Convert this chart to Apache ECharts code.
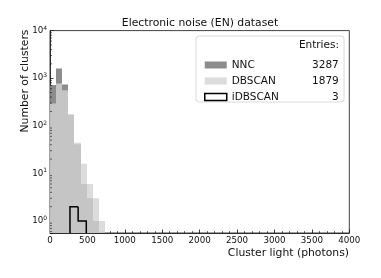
<!DOCTYPE html>
<html><head><meta charset="utf-8">
<script src="https://cdn.jsdelivr.net/npm/echarts@6/dist/echarts.min.js"></script>
<style>html,body{margin:0;padding:0;background:#fff;}#c{width:381px;height:278px;}</style>
</head><body><div id="c"></div>
<script>
// ---- data ----
const binEdges = [0, 81.6, 163.3, 244.9, 326.5, 408.2, 489.8, 571.4, 653.1, 734.7];
const nncCounts = [720, 1600, 740, 169, 41, 6, 3, 1];
const dbscanCounts = [295, 775, 560, 177, 44, 16, 6, 3, 1];
const idbscanEdges = [267, 376, 485];
const idbscanCounts = [2, 1];
const seriesNames = ['NNC', 'DBSCAN', 'iDBSCAN'];
const entries = [3287, 1879, 3];
const xTicks = [0, 4000, 500];
const yRange = [0.56, 10000];
const yMinorTicks = [0.6, 0.7, 0.8, 0.9,
  2, 3, 4, 5, 6, 7, 8, 9,
  20, 30, 40, 50, 60, 70, 80, 90,
  200, 300, 400, 500, 600, 700, 800, 900,
  2000, 3000, 4000, 5000, 6000, 7000, 8000, 9000];

const FONT = 'DejaVu Sans';
const nncColor = 'rgba(128,128,128,0.9)';
const dbColor = 'rgba(211,211,211,0.8)';

function binsData(edges, counts) {
  return counts.map((c, i) => [edges[i], edges[i + 1], c]);
}

function filledHist(color) {
  return function (params, api) {
    const x0 = api.value(0), x1 = api.value(1), c = api.value(2);
    const p0 = api.coord([x0, c]);
    const p1 = api.coord([x1, c]);
    const bottom = params.coordSys.y + params.coordSys.height;
    const left = Math.round(p0[0]), right = Math.round(p1[0]);
    return {
      type: 'rect',
      shape: { x: left, y: p0[1], width: right - left, height: bottom - p0[1] },
      style: { fill: color }
    };
  };
}

const idbData = binsData(idbscanEdges, idbscanCounts);

const chart = echarts.init(document.getElementById('c'), null, { renderer: 'canvas' });
chart.setOption({
  animation: false,
  textStyle: { fontFamily: FONT },
  grid: { left: 50, right: 31.7, top: 30.6, bottom: 45, show: true, borderColor: '#111', borderWidth: 0.8, containLabel: false },
  xAxis: {
    type: 'value', min: xTicks[0], max: xTicks[1], interval: xTicks[2],
    axisLine: { show: true, lineStyle: { color: '#111', width: 0.8 } },
    axisTick: { show: true, inside: true, length: 3.5, lineStyle: { color: '#111', width: 0.8 } },
    minorTick: { show: true, splitNumber: 5, length: 2, lineStyle: { color: '#111', width: 0.6 } },
    splitLine: { show: false },
    axisLabel: { color: '#111', fontSize: 8.7, fontFamily: FONT, margin: 3, formatter: v => String(v) }
  },
  yAxis: {
    type: 'log', logBase: 10, min: yRange[0], max: yRange[1],
    axisLine: { show: true, lineStyle: { color: '#111', width: 0.8 } },
    axisTick: { show: true, inside: true, length: 3.5, lineStyle: { color: '#111', width: 0.8 } },
    splitLine: { show: false },
    axisLabel: {
      color: '#111', margin: 3, fontFamily: FONT,
      formatter: function (v) {
        const l = Math.log10(v), e = Math.round(l);
        if (Math.abs(l - e) > 1e-6) return '';
        return '{b|10}{s|' + e + '}';
      },
      rich: {
        b: { fontSize: 8.7, fontFamily: FONT, color: '#111' },
        s: { fontSize: 6, fontFamily: FONT, color: '#111', padding: [0, 0, 5, 0] }
      }
    }
  },
  legend: {
    orient: 'vertical', left: 199, top: 54, itemWidth: 22, itemHeight: 7, itemGap: 4,
    selectedMode: false, z: 30,
    textStyle: {
      fontFamily: FONT, fontSize: 10.5, color: '#111', lineHeight: 12,
      rich: {
        n: { fontFamily: FONT, fontSize: 10.5, color: '#111', width: 60 },
        v: { fontFamily: FONT, fontSize: 10.5, color: '#111', width: 47, align: 'right' }
      }
    },
    formatter: function (name) {
      return '{n|' + name + '}{v|' + entries[seriesNames.indexOf(name)] + '}';
    },
    data: [
      { name: seriesNames[0], icon: 'rect', itemStyle: { color: nncColor, borderWidth: 0 } },
      { name: seriesNames[1], icon: 'rect', itemStyle: { color: dbColor, borderWidth: 0 } },
      { name: seriesNames[2], icon: 'rect', itemStyle: { color: '#fff', borderColor: '#000', borderWidth: 1.5 } }
    ]
  },
  graphic: [
    { type: 'rect', z: 20, shape: { x: 196, y: 36, width: 148, height: 66, r: 3 },
      style: { fill: 'rgba(255,255,255,0.85)', stroke: '#d0d0d0', lineWidth: 0.8 } },
    { type: 'text', z: 25, x: 339, y: 45, style: { text: 'Entries:', fontFamily: FONT, fontSize: 10.5, fill: '#111', align: 'right', verticalAlign: 'middle' } },
    { type: 'text', z: 25, x: 200, y: 23.5, style: { text: 'Electronic noise (EN) dataset', fontFamily: FONT, fontSize: 10.8, fill: '#111', align: 'center', verticalAlign: 'middle' } },
    { type: 'text', z: 25, x: 25, y: 81, rotation: Math.PI / 2, style: { text: 'Number of clusters', fontFamily: FONT, fontSize: 10.8, fill: '#111', align: 'center', verticalAlign: 'middle' } },
    { type: 'text', z: 25, x: 349, y: 253, style: { text: 'Cluster light (photons)', fontFamily: FONT, fontSize: 10.8, fill: '#111', align: 'right', verticalAlign: 'middle' } }
  ],
  series: [
    { name: seriesNames[0], type: 'custom', clip: true, z: 2, itemStyle: { color: nncColor },
      data: binsData(binEdges, nncCounts), renderItem: filledHist(nncColor) },
    { name: seriesNames[1], type: 'custom', clip: true, z: 3, itemStyle: { color: dbColor },
      data: binsData(binEdges, dbscanCounts), renderItem: filledHist(dbColor) },
    { name: seriesNames[2], type: 'custom', clip: true, z: 4, itemStyle: { color: '#000' },
      data: idbData,
      renderItem: function (params, api) {
        const i = params.dataIndex;
        const x0 = api.value(0), x1 = api.value(1), c = api.value(2);
        const bottom = params.coordSys.y + params.coordSys.height;
        const pTop0 = api.coord([x0, c]);
        const pTop1 = api.coord([x1, c]);
        const startY = i === 0 ? bottom : api.coord([x0, idbData[i - 1][2]])[1];
        const pts = [[pTop0[0], startY], pTop0, pTop1];
        if (i === idbData.length - 1) pts.push([pTop1[0], bottom]);
        return { type: 'polyline', shape: { points: pts }, style: { stroke: '#000', lineWidth: 1.5, fill: null } };
      } },
    { name: 'minorTicks', type: 'custom', z: 5, silent: true, clip: false,
      data: yMinorTicks.map(v => [0, v]),
      renderItem: function (params, api) {
        const p = api.coord([0, api.value(1)]);
        return { type: 'line', shape: { x1: p[0], y1: p[1], x2: p[0] + 2, y2: p[1] }, style: { stroke: '#111', lineWidth: 0.6 } };
      } }
  ]
});
</script></body></html>
